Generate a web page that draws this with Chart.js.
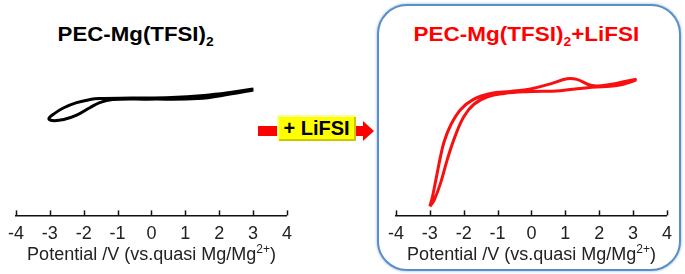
<!DOCTYPE html>
<html>
<head>
<meta charset="utf-8">
<script src="https://cdn.jsdelivr.net/npm/chart.js@4.4.1/dist/chart.umd.min.js"></script>
<style>
  html,body{margin:0;padding:0;background:#fff;}
  #wrap{position:relative;width:685px;height:274px;overflow:hidden;font-family:"Liberation Sans",Arial,sans-serif;}
  .ttl{position:absolute;font-weight:bold;font-size:21px;line-height:24px;white-space:nowrap;transform-origin:center;}
  .ttl sub{font-size:13px;vertical-align:-5px;line-height:0;}
  #box{position:absolute;left:377px;top:4px;width:300px;height:263px;border:2.5px solid #5b8ec6;border-radius:30px;box-shadow:0 0 3px rgba(91,142,198,0.7);background:#fff;}
  canvas{position:absolute;}
  .bar{position:absolute;background:#ff0000;}
  #ybox{position:absolute;left:277px;top:115px;width:79px;height:26px;background:#ffff00;box-shadow:inset 2px 2px 0 #ffff99, inset -2px -2px 0 #c9c900;font-weight:bold;font-size:20px;line-height:27px;text-align:center;color:#000;}
  #head{position:absolute;left:363px;top:121px;width:0;height:0;border-top:10px solid transparent;border-bottom:10px solid transparent;border-left:11px solid #ff0000;}
</style>
</head>
<body>
<div id="wrap">
  <div id="box"></div>
  <div class="ttl" id="t1" style="left:62px;top:22px;color:#000;transform:scaleX(1.06);">PEC-Mg(TFSI)<sub>2</sub></div>
  <div class="ttl" id="t2" style="left:421px;top:22px;color:#ff0000;transform:scaleX(1.07);">PEC-Mg(TFSI)<sub>2</sub>+LiFSI</div>
  <div class="bar" style="left:258px;top:126px;width:20px;height:10px;"></div>
  <div class="bar" style="left:355px;top:126px;width:9px;height:10px;"></div>
  <div id="head"></div>
  <div id="ybox">+ LiFSI</div>
  <canvas id="c1" width="300" height="274" style="left:0;top:0;width:300px;height:274px;"></canvas>
  <canvas id="c2" width="300" height="274" style="left:380px;top:0;width:300px;height:274px;"></canvas>
</div>
<script>
// Potential (V) and current (arbitrary units)
const xTicks = [-4, -3, -2, -1, 0, 1, 2, 3, 4];
const axisTitleMain = "Potential /V (vs.quasi Mg/Mg";
const axisTitleSup = "2+";
const axisTitleEnd = ")";

// Left: PEC-Mg(TFSI)2
const leftV = [3.01, 2.32, 1.55, 0.59, -0.57, -1.53, -1.82, -2.21, -2.59, -2.88, -3.03,
               -2.93, -2.59, -2.21, -1.82, -1.53, -1.15, -0.09, 1.36, 2.32, 3.01];
const leftI = [0.21, -0.13, -0.42, -0.62, -0.68, -0.72, -0.82, -1.11, -1.61, -2.20, -2.65,
               -2.85, -2.75, -2.33, -1.61, -1.11, -0.82, -0.78, -0.72, -0.29, 0.11];

// Right: PEC-Mg(TFSI)2 + LiFSI
const rightV = [-3.00, -2.92, -2.82, -2.70, -2.58, -2.38, -2.09, -1.70, -1.21, -0.62, -0.03, 0.56, 1.05, 1.34, 1.78, 2.32, 3.06,
                3.06, 2.52, 1.78, 0.85, -0.13, -0.81, -1.30, -1.70, -1.99, -2.24, -2.48, -2.68, -2.87, -3.00];
const rightI = [-11.14, -10.15, -8.52, -6.54, -4.89, -3.25, -1.77, -0.78, -0.23, -0.03, 0.21, 0.70, 1.19, 1.13, 0.53, 0.63, 1.13,
                1.03, 0.53, 0.37, 0.04, -0.06, -0.23, -0.55, -1.27, -2.43, -4.23, -6.54, -8.84, -10.49, -11.14];

const FONT = '"Liberation Sans", Arial, sans-serif';

const axisDeco = {
  id: 'axisDeco',
  afterDraw(chart) {
    const xs = chart.scales.x, ctx = chart.ctx, y = chart.chartArea.bottom;
    ctx.save();
    // inward tick marks
    ctx.strokeStyle = '#111';
    ctx.lineWidth = 1.5;
    xs.ticks.forEach(t => {
      const px = Math.round(xs.getPixelForValue(t.value)) + 0.5;
      ctx.beginPath(); ctx.moveTo(px, y); ctx.lineTo(px, y - 5); ctx.stroke();
    });
    // axis title with superscript
    const main = '18px ' + FONT, sup = '12px ' + FONT;
    ctx.font = main; const w1 = ctx.measureText(axisTitleMain).width, w3 = ctx.measureText(axisTitleEnd).width;
    ctx.font = sup; const w2 = ctx.measureText(axisTitleSup).width;
    const cx = (chart.chartArea.left + chart.chartArea.right) / 2;
    let x0 = cx - (w1 + w2 + w3) / 2;
    const by = y + 45;
    ctx.fillStyle = '#222';
    ctx.textBaseline = 'alphabetic';
    ctx.textAlign = 'left';
    ctx.font = main; ctx.fillText(axisTitleMain, x0, by);
    ctx.font = sup; ctx.fillText(axisTitleSup, x0 + w1, by - 7);
    ctx.font = main; ctx.fillText(axisTitleEnd, x0 + w1 + w2, by);
    ctx.restore();
  }
};

function makeChart(id, xs, ys, color, pad) {
  const pts = xs.map((v, i) => ({x: v, y: ys[i]}));
  return new Chart(document.getElementById(id), {
    type: 'scatter',
    data: { datasets: [{ data: pts, showLine: true, borderColor: color, borderWidth: 3,
                         pointRadius: 0, tension: 0.4, fill: false }] },
    options: {
      responsive: false, animation: false,
      layout: { padding: pad },
      plugins: { legend: { display: false }, tooltip: { enabled: false } },
      scales: {
        x: {
          type: 'linear', min: -4, max: 4,
          afterBuildTicks: s => { s.ticks = xTicks.map(v => ({value: v})); },
          grid: { display: true, drawOnChartArea: false, drawTicks: false },
          border: { display: true, color: '#111', width: 1.5 },
          ticks: { padding: 8, color: '#222', font: { family: FONT, size: 18 } },
          title: { display: false }
        },
        y: { display: false, min: -12, max: 3 }
      }
    },
    plugins: [axisDeco]
  });
}

makeChart('c1', leftV, leftI, '#000000', { left: 11, right: 12, top: 60, bottom: 21 });
makeChart('c2', rightV, rightI, '#f80f0f', { left: 15, right: 12, top: 60, bottom: 21 });
</script>
</body>
</html>
